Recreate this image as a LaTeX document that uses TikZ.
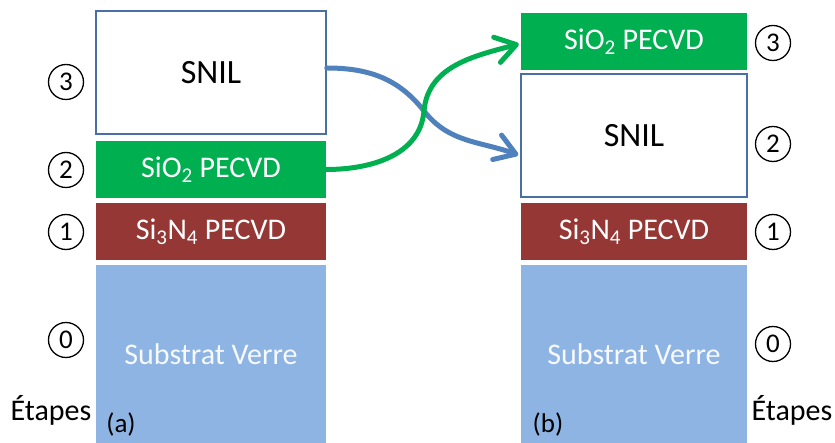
\documentclass[tikz,border=0pt]{standalone}
\usepackage{fontspec}
\setmainfont{Carlito}
\usetikzlibrary{arrows.meta}
\definecolor{boxgreen}{HTML}{00B050}
\definecolor{boxred}{HTML}{953735}
\definecolor{boxblue}{HTML}{8EB4E3}
\definecolor{arrblue}{HTML}{4F81BD}
\definecolor{snilborder}{HTML}{4A6FA5}
\begin{document}
\begin{tikzpicture}[x=1pt,y=-1pt,
  layer/.style={rectangle,inner sep=0pt,anchor=center,font=\fontsize{30}{33}\selectfont},
  snil/.style={layer,draw=snilborder,line width=1.5pt,fill=white,text=black,font=\fontsize{34}{37}\selectfont},
  sio/.style={layer,fill=boxgreen,text=white},
  sin/.style={layer,fill=boxred,text=white},
  sub/.style={layer,fill=boxblue,text=white!92!boxblue},
  stepnum/.style={circle,draw=black,line width=1.3pt,minimum size=35pt,inner sep=0pt,font=\fontsize{27}{29}\selectfont},
  lbl/.style={inner sep=0pt,font=\fontsize{30}{32}\selectfont},
  conn/.style={line width=5pt,line cap=round,-{Straight Barb[length=20pt,width=26pt,line width=5pt,round]}}
]
\useasboundingbox (0,0) rectangle (835,443);
% left stack (a)
\node[snil,minimum width=230pt,minimum height=123pt] (snilA) at (211,72.5) {SNIL};
\node[sio,minimum width=230pt,minimum height=57pt] (sioA) at (211,169.5) {SiO\textsubscript{2} PECVD};
\node[sin,minimum width=230pt,minimum height=57pt] (sinA) at (211,231.5) {Si\textsubscript{3}N\textsubscript{4} PECVD};
\node[sub,minimum width=230pt,minimum height=178pt] (subA) at (211,354) {Substrat Verre};
% right stack (b)
\node[sio,minimum width=226pt,minimum height=57pt] (sioB) at (634,41.5) {SiO\textsubscript{2} PECVD};
\node[snil,minimum width=226pt,minimum height=123pt] (snilB) at (634,135.5) {SNIL};
\node[sin,minimum width=226pt,minimum height=57pt] (sinB) at (634,231.5) {Si\textsubscript{3}N\textsubscript{4} PECVD};
\node[sub,minimum width=226pt,minimum height=178pt] (subB) at (634,354) {Substrat Verre};
% step numbers
\node[stepnum] (nA3) at (66,82) {3};
\node[stepnum] (nA2) at (66,170) {2};
\node[stepnum] (nA1) at (66,232) {1};
\node[stepnum] (nA0) at (66,340) {0};
\node[stepnum] (nB3) at (773,43) {3};
\node[stepnum] (nB2) at (773,144) {2};
\node[stepnum] (nB1) at (773,232) {1};
\node[stepnum] (nB0) at (773,344) {0};
% labels
\node[lbl] (etA) at (51,410) {Étapes};
\node[lbl] (etB) at (792,410) {Étapes};
\node[lbl,font=\fontsize{27}{30}\selectfont] (labA) at (121,424) {(a)};
\node[lbl,font=\fontsize{27}{30}\selectfont] (labB) at (548,424) {(b)};
% connectors
\coordinate (bs) at (snilA.east |- 0,68);
\coordinate (be) at ([xshift=-2pt]snilB.west |- 0,155);
\coordinate (gs) at (sioA.east);
\coordinate (ge) at ([xshift=-2pt]sioB.west |- 0,44);
\coordinate (cross) at (424,111);
\draw[conn,arrblue] (bs) to[out=0,in=128] (cross) to[out=-52,in=160] (be);
\draw[conn,boxgreen] (gs) to[out=0,in=-95] (cross) to[out=85,in=-165] (ge);
\end{tikzpicture}
\end{document}
